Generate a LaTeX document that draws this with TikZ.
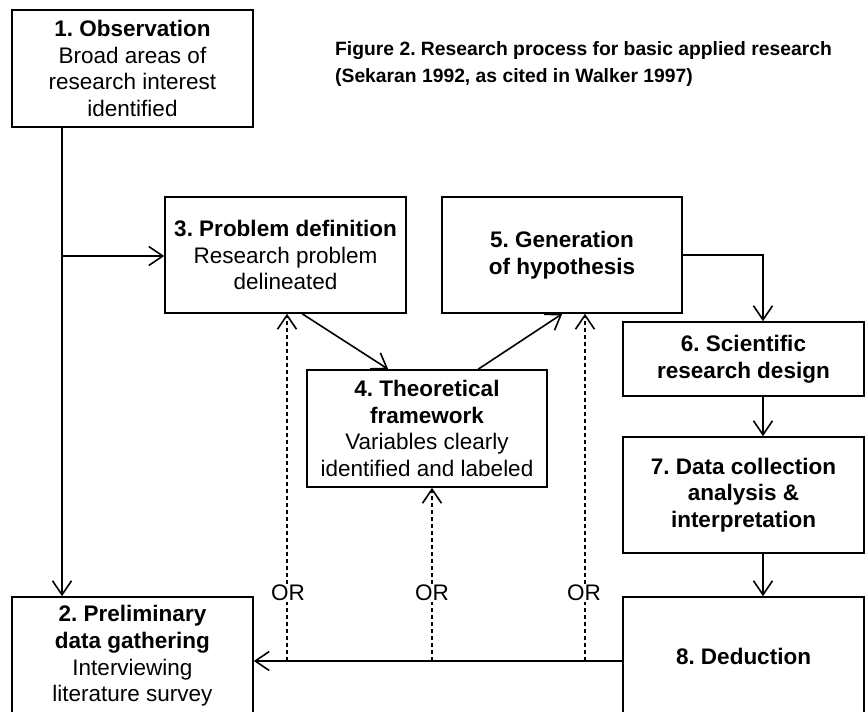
\documentclass[tikz,border=0pt]{standalone}
\usepackage{fontspec}
\setmainfont{Liberation Sans}
\usetikzlibrary{arrows.meta,calc}
\frenchspacing
\begin{document}
\begin{tikzpicture}[x=1pt,y=-1pt,
  box/.style={draw,line width=1.6pt,inner sep=0pt,align=center,minimum width=241pt,font=\fontsize{22.5}{26.7}\selectfont},
  arr/.style={line width=1.6pt,-{Straight Barb[length=14pt,width=19pt]}},
  dotl/.style={arr,dash pattern=on 4pt off 3pt},
  orl/.style={fill=white,inner sep=1pt,font=\fontsize{22.5}{26.7}\selectfont},
  ttl/.style={anchor=base west,inner sep=0pt,font=\bfseries\fontsize{19.3}{27}\selectfont}]
\useasboundingbox[fill=white] (0,0) rectangle (868,712);

\node[ttl] (t1) at (335,55) {Figure 2. Research process for basic applied research};
\node[ttl] (t2) at (335,82) {(Sekaran 1992, as cited in Walker 1997)};

\node[box,minimum height=117pt] (b1) at (132.5,68.5) {\textbf{1. Observation}\\Broad areas of\\research interest\\identified};
\node[box,minimum height=118pt] (b2) at (132.5,656) {\textbf{2. Preliminary}\\\textbf{data gathering}\\Interviewing\\literature survey};
\node[box,minimum height=116pt] (b3) at (285.5,255) {\textbf{3. Problem definition}\\Research problem\\delineated};
\node[box,minimum height=117pt,minimum width=240pt] (b4) at (427,428.5) {\textbf{4. Theoretical}\\\textbf{framework}\\Variables clearly\\identified and labeled};
\node[box,minimum height=116pt,minimum width=240pt] (b5) at (562,255) {\textbf{5. Generation}\\\textbf{of hypothesis}};
\node[box,minimum height=74pt] (b6) at (743.5,359) {\textbf{6. Scientific}\\\textbf{research design}};
\node[box,minimum height=116pt] (b7) at (743.5,495) {\textbf{7. Data collection}\\\textbf{analysis \&}\\\textbf{interpretation}};
\node[box,minimum height=118pt] (b8) at (743.5,656) {\textbf{8. Deduction}};

\coordinate (j1) at (62,256);
\coordinate (cx) at (763,0);
\coordinate (hy) at (0,661);
\coordinate (d1) at (287,661);
\coordinate (d2) at (432,661);
\coordinate (d3) at (585,661);

\draw[arr] (j1 |- b1.south) -- (j1 |- b2.north);
\draw[arr] (j1) -- (j1 -| b3.west);
\draw[arr] ($(b3.south west)+(138,0)$) -- ($(b4.north west)+(82,0)$);
\draw[arr] ($(b4.north west)+(172,0)$) -- ($(b5.south west)+(121,0)$);
\draw[arr] (b5.east) -- (cx |- b5.east) -- (cx |- b6.north);
\draw[arr] (cx |- b6.south) -- (cx |- b7.north);
\draw[arr] (cx |- b7.south) -- (cx |- b8.north);
\draw[arr] (b8.west |- hy) -- (b2.east |- hy);

\draw[dotl] (d1) -- (d1 |- b3.south);
\draw[dotl] (d2) -- (d2 |- b4.south);
\draw[dotl] (d3) -- (d3 |- b5.south);

\node[orl] (or1) at (288,593) {OR};
\node[orl] (or2) at (432,593) {OR};
\node[orl] (or3) at (584,593) {OR};
\end{tikzpicture}
\end{document}
